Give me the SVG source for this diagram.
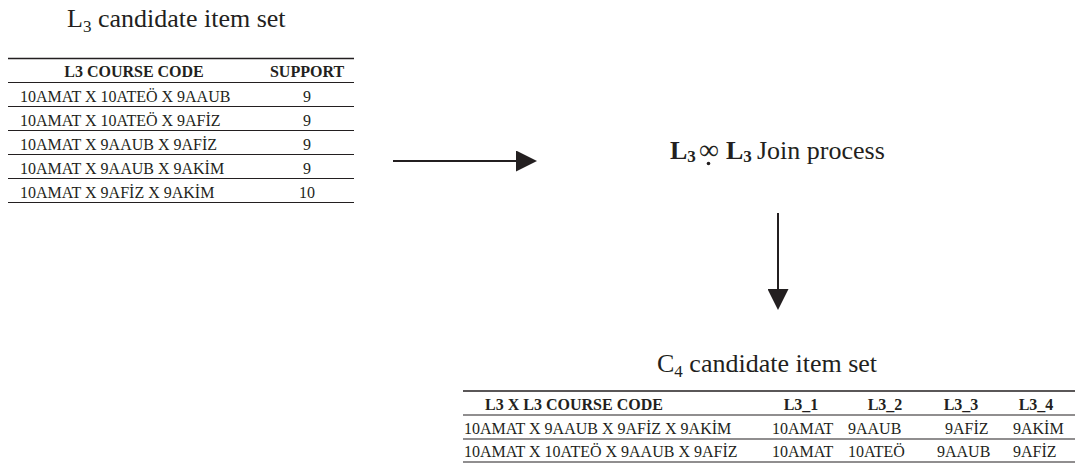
<svg xmlns="http://www.w3.org/2000/svg" width="1083" height="463" viewBox="0 0 1083 463">
<defs>
<style>
.t{font-family:"Liberation Serif","Times New Roman",serif;fill:#231f20}
.big{font-size:26px}
.cell{font-size:16px}
.hd{font-size:16px;font-weight:bold}
.thick{stroke:#231f20;stroke-width:1.6}
.thin{stroke:#231f20;stroke-width:1.1}
.conn{stroke:#231f20;stroke-width:2;fill:none}
</style>
<marker id="ah" viewBox="0 0 21 21" markerWidth="21" markerHeight="21" refX="0" refY="10.5" orient="auto" markerUnits="userSpaceOnUse">
<path d="M0,0 L21,10.5 L0,21 z" fill="#231f20"/>
</marker>
</defs>
<rect width="1083" height="463" fill="#ffffff"/>

<g id="l3-table">
<text class="t big" x="67" y="27">L<tspan font-size="17" dy="5">3</tspan><tspan dy="-5"> candidate item set</tspan></text>
<line class="thick" x1="8" y1="58.5" x2="354" y2="58.5"/>
<line class="thin" x1="8" y1="82.5" x2="354" y2="82.5"/>
<line class="thin" x1="8" y1="106.5" x2="354" y2="106.5"/>
<line class="thin" x1="8" y1="130.5" x2="354" y2="130.5"/>
<line class="thin" x1="8" y1="154.5" x2="354" y2="154.5"/>
<line class="thin" x1="8" y1="178.5" x2="354" y2="178.5"/>
<line class="thin" x1="8" y1="202.5" x2="354" y2="202.5"/>
<text class="t hd" x="134" y="77" text-anchor="middle">L3 COURSE CODE</text>
<text class="t hd" x="307" y="77" text-anchor="middle">SUPPORT</text>
<text class="t cell" x="20" y="101.5">10AMAT X 10ATEÖ X 9AAUB</text>
<text class="t cell" x="20" y="125.5">10AMAT X 10ATEÖ X 9AFİZ</text>
<text class="t cell" x="20" y="149.5">10AMAT X 9AAUB X 9AFİZ</text>
<text class="t cell" x="20" y="173.5">10AMAT X 9AAUB X 9AKİM</text>
<text class="t cell" x="20" y="197.5">10AMAT X 9AFİZ X 9AKİM</text>
<text class="t cell" x="307" y="101.5" text-anchor="middle">9</text>
<text class="t cell" x="307" y="125.5" text-anchor="middle">9</text>
<text class="t cell" x="307" y="149.5" text-anchor="middle">9</text>
<text class="t cell" x="307" y="173.5" text-anchor="middle">9</text>
<text class="t cell" x="307" y="197.5" text-anchor="middle">10</text>
</g>

<g id="join-process">
<text class="t big" y="159"><tspan x="670" font-weight="bold">L</tspan><tspan font-weight="bold" font-size="17" dy="3">3</tspan><tspan x="699" dy="-3" font-size="28">∞</tspan><tspan x="726" font-weight="bold">L</tspan><tspan font-weight="bold" font-size="17" dy="3">3</tspan><tspan x="757" dy="-3">Join process</tspan></text>
<circle cx="708.5" cy="163.5" r="1.8" fill="#231f20"/>
</g>

<g id="c4-table">
<text class="t big" x="657" y="372">C<tspan font-size="17" dy="5">4</tspan><tspan dy="-5"> candidate item set</tspan></text>
<line class="thick" x1="463" y1="391" x2="1075" y2="391"/>
<line class="thin" x1="463" y1="415" x2="1075" y2="415"/>
<line class="thin" x1="463" y1="439" x2="1075" y2="439"/>
<line class="thin" x1="463" y1="462" x2="1075" y2="462"/>
<text class="t hd" x="574" y="410" text-anchor="middle">L3 X L3 COURSE CODE</text>
<text class="t hd" x="801" y="410" text-anchor="middle">L3_1</text>
<text class="t hd" x="885" y="410" text-anchor="middle">L3_2</text>
<text class="t hd" x="961" y="410" text-anchor="middle">L3_3</text>
<text class="t hd" x="1036" y="410" text-anchor="middle">L3_4</text>
<text class="t cell" x="464" y="434">10AMAT X 9AAUB X 9AFİZ X 9AKİM</text>
<text class="t cell" x="772" y="434">10AMAT</text>
<text class="t cell" x="848" y="434">9AAUB</text>
<text class="t cell" x="945" y="434">9AFİZ</text>
<text class="t cell" x="1013" y="434">9AKİM</text>
<text class="t cell" x="464" y="457">10AMAT X 10ATEÖ X 9AAUB X 9AFİZ</text>
<text class="t cell" x="772" y="457">10AMAT</text>
<text class="t cell" x="848" y="457">10ATEÖ</text>
<text class="t cell" x="937" y="457">9AAUB</text>
<text class="t cell" x="1013" y="457">9AFİZ</text>
</g>

<g id="connectors">
<line class="conn" x1="393" y1="161" x2="516" y2="161" marker-end="url(#ah)"/>
<line class="conn" x1="778" y1="213" x2="778" y2="289" marker-end="url(#ah)"/>
</g>
</svg>
